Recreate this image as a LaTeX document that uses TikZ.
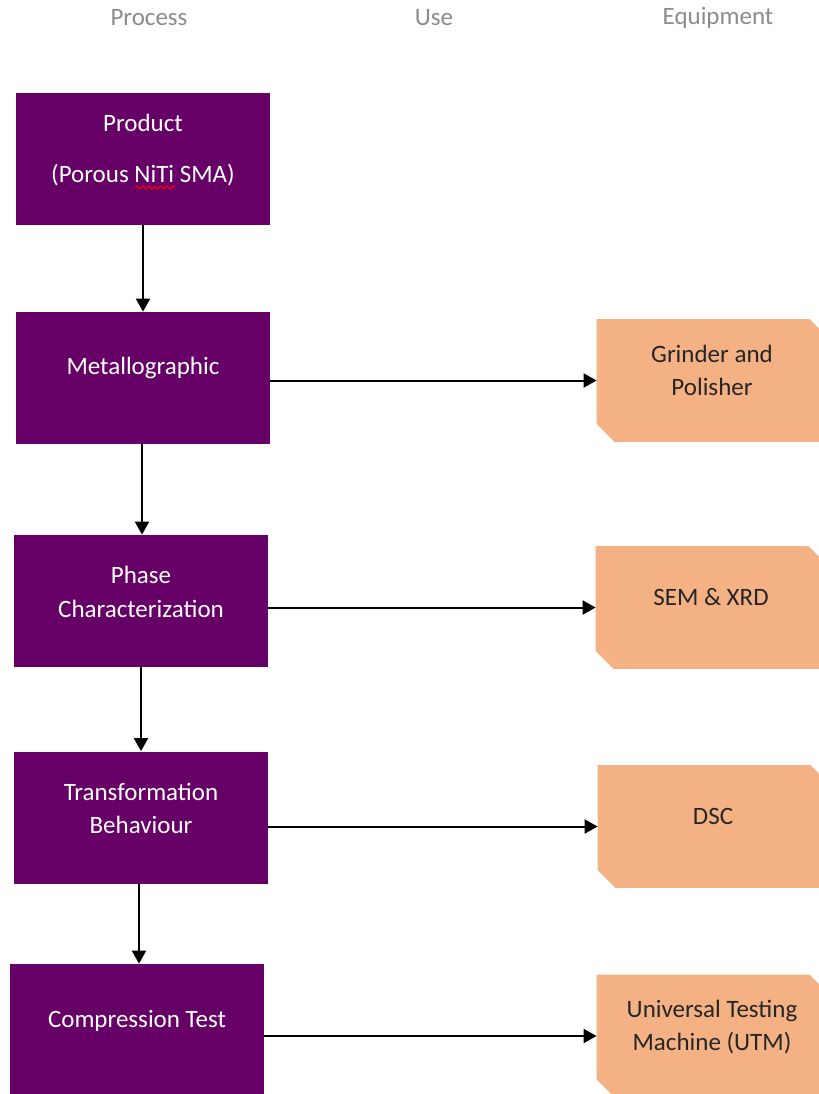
\documentclass[tikz,border=0pt]{standalone}
\usepackage{fontspec}
\setmainfont{Carlito}
\usetikzlibrary{arrows.meta,decorations.pathmorphing}
\definecolor{procpurple}{RGB}{102,0,102}
\definecolor{equiporange}{RGB}{244,177,131}
\definecolor{headgray}{RGB}{140,140,140}
\begin{document}
\begin{tikzpicture}[x=0.5pt,y=-0.5pt,
  procbox/.style={fill=procpurple,minimum width=127pt,minimum height=66pt,inner sep=0pt},
  equipbox/.style={minimum width=115pt,minimum height=61pt,inner sep=0pt},
  boxtext/.style={font=\fontsize{12.5}{16.8}\selectfont,align=center},
  headtext/.style={font=\fontsize{12.5}{15}\selectfont,text=headgray},
  spellwave/.style={red,line width=0.5pt,decorate,decoration={snake,amplitude=0.8pt,segment length=3pt}},
  arr/.style={-{Triangle[length=6.5pt,width=7pt]},line width=1pt}]
\useasboundingbox (0,0) rectangle (819,1094);

% column heads
\node[headtext] (hproc) at (149,18) {Process};
\node[headtext] (huse) at (434,18) {Use};
\node[headtext] (hequip) at (718,18) {Equipment};

% process boxes
\node[procbox] (prod) at (143,158.5) {};
\node[procbox] (metal) at (143,378) {};
\node[procbox] (phase) at (141,601) {};
\node[procbox] (trans) at (141,817.5) {};
\node[procbox,minimum height=65.5pt] (comp) at (137,1029.5) {};

\node[boxtext,text=white] (prodtxt) at ([yshift=4pt]prod.center) {Product\\[8.7pt](Porous NiTi SMA)};
\draw[spellwave] ([xshift=-4pt,yshift=-14.5pt]prod.center) -- ([xshift=16pt,yshift=-14.5pt]prod.center);
\node[boxtext,text=white] (metaltxt) at ([yshift=5pt]metal.center) {Metallographic};
\node[boxtext,text=white] (phasetxt) at ([yshift=4.5pt]phase.center) {Phase\\Characterization};
\node[boxtext,text=white] (transtxt) at ([yshift=4.5pt]trans.center) {Transformation\\Behaviour};
\node[boxtext,text=white] (comptxt) at ([yshift=4.5pt]comp.center) {Compression Test};

% equipment boxes, snipped at two corners
\node[equipbox] (grind) at (712,380.5) {};
\node[equipbox] (sem) at (711,607.5) {};
\node[equipbox] (dsc) at (713,826.5) {};
\node[equipbox] (utm) at (712,1036) {};
\foreach \b in {grind,sem,dsc,utm}
  \fill[equiporange] (\b.north west) -- ([xshift=-9pt]\b.north east) -- ([yshift=-9pt]\b.north east)
    -- (\b.south east) -- ([xshift=9pt]\b.south west) -- ([yshift=9pt]\b.south west) -- cycle;

\node[boxtext,text=black!85] (grindtxt) at ([yshift=5pt]grind.center) {Grinder and\\Polisher};
\node[boxtext,text=black!85] (semtxt) at ([yshift=5pt]sem.center) {SEM \& XRD};
\node[boxtext,text=black!85] (dsctxt) at ([yshift=5pt]dsc.center) {DSC};
\node[boxtext,text=black!85] (utmtxt) at ([yshift=4.5pt]utm.center) {Universal Testing\\Machine (UTM)};

% arrows
\draw[arr] (prod.south) -- (prod.south |- metal.north);
\draw[arr] ([xshift=-0.5pt]metal.south) -- ([xshift=-0.5pt]metal.south |- phase.north);
\draw[arr] (phase.south) -- (phase.south |- trans.north);
\draw[arr] ([xshift=-1pt]trans.south) -- ([xshift=-1pt]trans.south |- comp.north);

\draw[arr] (metal.east |- grind.west) -- (grind.west);
\draw[arr] (phase.east |- sem.west) -- (sem.west);
\draw[arr] (trans.east |- dsc.west) -- (dsc.west);
\draw[arr] (comp.east |- utm.west) -- (utm.west);
\end{tikzpicture}
\end{document}
